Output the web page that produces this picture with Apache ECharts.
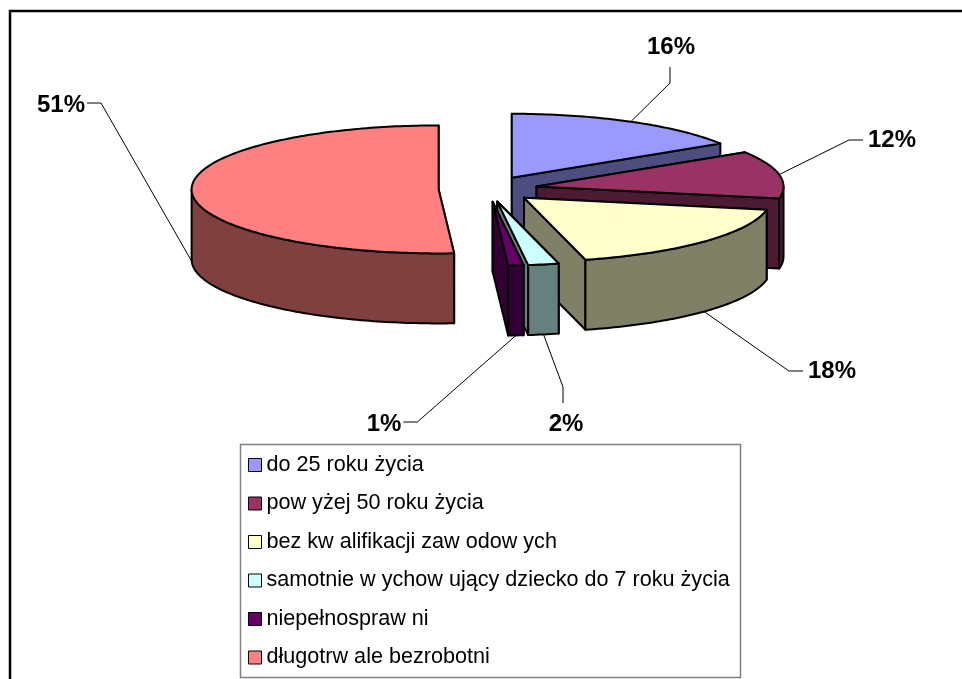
<!DOCTYPE html>
<html>
<head>
<meta charset="utf-8">
<script src="https://cdn.jsdelivr.net/npm/echarts@6/dist/echarts.min.js"></script>
<style>
  html, body { margin: 0; padding: 0; background: #fff; }
  #chart { width: 962px; height: 679px; }
</style>
</head>
<body>
<div id="chart"></div>
<script>
// Categories of unemployed persons and their share (percent)
const categories = [
  'do 25 roku życia',
  'pow yżej 50 roku życia',
  'bez kw alifikacji zaw odow ych',
  'samotnie w ychow ujący dziecko do 7 roku życia',
  'niepełnospraw ni',
  'długotrw ale bezrobotni'
];
const shares = [16, 12, 18, 2, 1, 51];
const shareLabels = ['16%', '12%', '18%', '2%', '1%', '51%'];

// Face colours (top) and shaded wall colours
const topColors  = ['#9999FF', '#993366', '#FFFFCC', '#CCFFFF', '#660066', '#FF8080'];
const sideColors = ['#4D4D80', '#4D1A33', '#808066', '#668080', '#330033', '#804040'];

// Label placement: text centre and the side the leader stub leaves from
const labelCenters = [[671, 47], [892, 140], [832, 371], [566, 424], [384, 424], [61, 105]];
const labelStubSide = ['bottom', 'left', 'left', 'top', 'right', 'right'];

// Projected 3D pie geometry
const pie = { cx: 488, cy: 189, rx: 247, ry: 64, depth: 70, explode: 0.2 };
const LABEL_FONT = 'bold 24px "Liberation Sans", Arial, sans-serif';

const total = shares.reduce((a, b) => a + b, 0);
const startFrac = [];
(function () {
  let acc = 0;
  shares.forEach(v => { startFrac.push(acc / total); acc += v; });
})();

const measureCtx = document.createElement('canvas').getContext('2d');
function textWidth(t, font) { measureCtx.font = font; return measureCtx.measureText(t).width; }

function sliceGeom(i, value) {
  const a0 = startFrac[i] * Math.PI * 2;
  const a1 = a0 + value / total * Math.PI * 2;
  const am = (a0 + a1) / 2;
  const cx = pie.cx + pie.explode * pie.rx * Math.sin(am);
  const cy = pie.cy - pie.explode * pie.ry * Math.cos(am);
  return { a0, a1, am, cx, cy };
}

// Painter's order: slices further back are drawn first
const drawRank = (function () {
  const keys = shares.map((v, i) => {
    const g = sliceGeom(i, v);
    return { i, key: g.cy - 0.5 * pie.ry * Math.cos(g.am) };
  });
  keys.sort((a, b) => a.key - b.key);
  const r = [];
  keys.forEach((k, n) => { r[k.i] = n; });
  return r;
})();

function renderSlice(params, api) {
  const i = params.seriesIndex;
  const value = api.value(0);
  const g = sliceGeom(i, value);
  const D = pie.depth;
  const P = (a, dy) => [g.cx + pie.rx * Math.sin(a), g.cy - pie.ry * Math.cos(a) + (dy || 0)];
  const arc = (from, to, dy) => {
    const n = Math.max(2, Math.ceil(Math.abs(to - from) / (Math.PI / 180)));
    const pts = [];
    for (let k = 0; k <= n; k++) pts.push(P(from + (to - from) * k / n, dy));
    return pts;
  };
  const base = drawRank[i] * 10;
  const edge = { stroke: '#000', lineWidth: 2, lineJoin: 'round' };
  const children = [];

  // radial walls
  [[g.a0, g.a0 - Math.PI / 2], [g.a1, g.a1 + Math.PI / 2]].forEach(([a, normal]) => {
    const visible = Math.cos(normal) < 0;
    children.push({
      type: 'polygon', z2: base + (visible ? 2 : 0),
      shape: { points: [[g.cx, g.cy], P(a), P(a, D), [g.cx, g.cy + D]] },
      style: Object.assign({ fill: sideColors[i] }, edge)
    });
  });

  // outer curved wall (front half only)
  const lo = Math.max(g.a0, Math.PI / 2);
  const hi = Math.min(g.a1, Math.PI * 1.5);
  if (hi > lo) {
    children.push({
      type: 'polygon', z2: base + 3,
      shape: { points: arc(lo, hi, 0).concat(arc(hi, lo, D)) },
      style: Object.assign({ fill: sideColors[i] }, edge)
    });
  }

  // top face
  children.push({
    type: 'polygon', z2: base + 4,
    shape: { points: [[g.cx, g.cy]].concat(arc(g.a0, g.a1, 0)) },
    style: Object.assign({ fill: topColors[i] }, edge)
  });

  // percentage label with leader line
  const anchor = P(g.am, Math.cos(g.am) < 0 ? D : 0);
  const [lx, ly] = labelCenters[i];
  const half = textWidth(shareLabels[i], LABEL_FONT) / 2;
  let s0, s1;
  switch (labelStubSide[i]) {
    case 'bottom': s0 = [lx - 1, ly + 20]; s1 = [lx - 1, ly + 36]; break;
    case 'top':    s0 = [lx - 3, ly - 21]; s1 = [lx - 3, ly - 37]; break;
    case 'left':   s0 = [lx - half - 5, ly]; s1 = [lx - half - 19, ly]; break;
    default:       s0 = [lx + half + 2, ly - 2]; s1 = [lx + half + 16, ly - 2]; break;
  }
  children.push({
    type: 'polyline', z2: 200,
    shape: { points: [s0, s1, anchor] },
    style: { stroke: '#000', lineWidth: 1, fill: null }
  });
  children.push({
    type: 'text', z2: 201, x: lx, y: ly,
    style: { text: shareLabels[i], font: LABEL_FONT, fill: '#000', align: 'center', verticalAlign: 'middle' }
  });

  return { type: 'group', children };
}

const chart = echarts.init(document.getElementById('chart'), null, { renderer: 'canvas' });

chart.setOption({
  backgroundColor: '#fff',
  animation: false,
  graphic: [
    {
      type: 'rect', silent: true, z: 0,
      shape: { x: 10, y: 11, width: 990, height: 720 },
      style: { fill: 'none', stroke: '#000', lineWidth: 2.5 }
    },
    {
      type: 'rect', silent: true, z: 0,
      shape: { x: 240.5, y: 444.5, width: 500, height: 233 },
      style: { fill: '#fff', stroke: '#808080', lineWidth: 1.5 }
    }
  ],
  legend: {
    orient: 'vertical',
    left: 243,
    top: 449,
    itemWidth: 13,
    itemHeight: 13,
    itemGap: 16.5,
    icon: 'rect',
    selectedMode: false,
    data: categories,
    itemStyle: { borderColor: '#000', borderWidth: 1 },
    textStyle: {
      fontFamily: '"Liberation Sans", Arial, sans-serif',
      fontSize: 21.6,
      lineHeight: 21.5,
      color: '#000'
    }
  },
  series: categories.map((name, i) => ({
    type: 'custom',
    name,
    coordinateSystem: 'none',
    silent: true,
    itemStyle: { color: topColors[i] },
    renderItem: renderSlice,
    data: [[shares[i]]]
  }))
});
</script>
</body>
</html>
